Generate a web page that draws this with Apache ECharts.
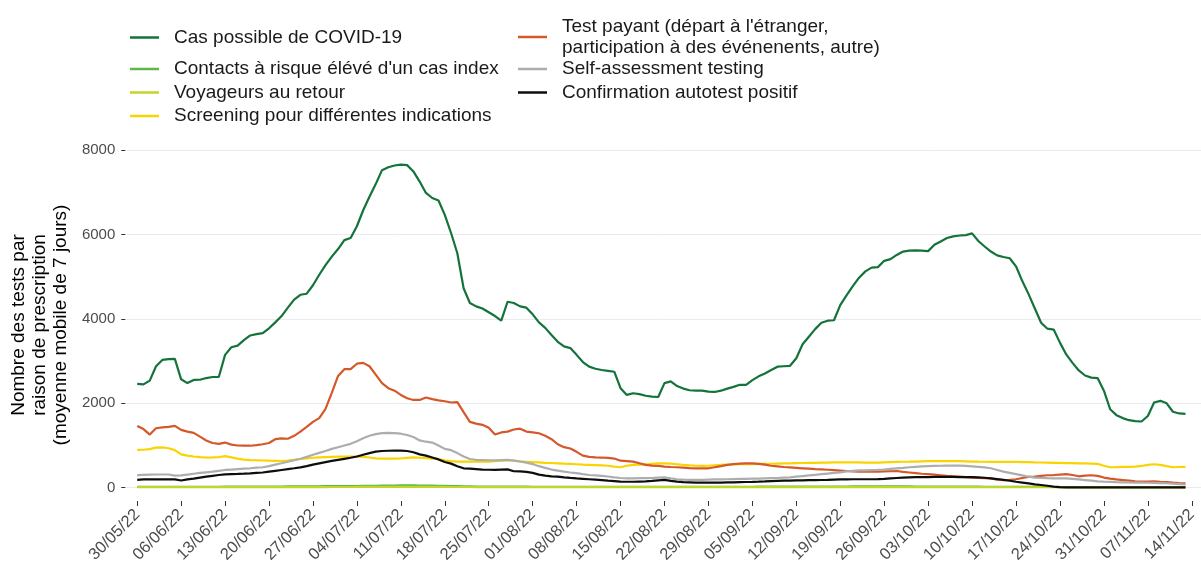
<!DOCTYPE html>
<html>
<head>
<meta charset="utf-8">
<script src="https://cdn.jsdelivr.net/npm/echarts@6/dist/echarts.min.js"></script>
<style>html,body{margin:0;padding:0;background:#fff}#c{width:1201px;height:579px}</style>
</head>
<body>
<div id="c"></div>
<script>
// Tick labels (one per week, starting at the first day of data: 30/05/22)
const tickLabels = ['30/05/22','06/06/22','13/06/22','20/06/22','27/06/22','04/07/22','11/07/22','18/07/22','25/07/22','01/08/22','08/08/22','15/08/22','22/08/22','29/08/22','05/09/22','12/09/22','19/09/22','26/09/22','03/10/22','10/10/22','17/10/22','24/10/22','31/10/22','07/11/22','14/11/22'];
const yTicks = [0, 2000, 4000, 6000, 8000];

const seriesNames = [
  'Cas possible de COVID-19',
  "Contacts à risque élévé d'un cas index",
  'Voyageurs au retour',
  'Screening pour différentes indications',
  "Test payant (départ à l'étranger,\nparticipation à des événenents, autre)",
  'Self-assessment testing',
  'Confirmation autotest positif'
];

// daily values (7-day moving average), 30/05/22 .. 13/11/22
const casPossible = [
2460,2450,2540,2880,3030,3050,3055,2570,2480,2555,
2560,2600,2625,2625,3150,3330,3370,3500,3610,3640,
3665,3780,3920,4070,4270,4460,4575,4600,4800,5050,
5280,5480,5660,5870,5920,6200,6580,6900,7200,7530,
7600,7640,7660,7650,7500,7260,6990,6870,6810,6470,
6040,5560,4730,4380,4300,4250,4160,4070,3960,4410,
4380,4300,4270,4110,3920,3790,3620,3460,3350,3310,
3150,2980,2870,2820,2790,2770,2750,2360,2200,2240,
2220,2180,2160,2150,2480,2520,2410,2350,2310,2300,
2300,2280,2270,2300,2350,2390,2440,2440,2550,2640,
2710,2790,2870,2880,2890,3070,3400,3580,3760,3910,
3960,3970,4330,4560,4780,4980,5130,5220,5230,5380,
5420,5520,5600,5620,5630,5620,5610,5760,5840,5920,
5960,5980,5990,6030,5850,5720,5600,5510,5470,5440,
5250,4900,4590,4250,3910,3770,3750,3440,3160,2960,
2780,2660,2610,2600,2300,1860,1720,1650,1600,1580,
1570,1700,2020,2060,2000,1800,1760,1750];

const contacts = [
20,20,21,21,22,22,22,20,20,21,
21,22,22,22,23,23,24,24,25,25,
26,26,27,28,29,30,31,32,33,34,
35,36,37,38,39,40,42,44,46,48,
50,52,54,55,54,52,50,47,44,41,
38,35,32,30,28,27,26,25,25,24,
24,23,23,22,22,22,21,21,21,20,
20,20,20,20,20,20,19,19,19,19,
19,19,20,20,20,20,20,20,20,20,
20,21,21,21,21,22,22,22,22,23,
23,23,24,24,24,25,25,26,26,27,
27,28,28,28,29,29,30,30,30,30,
30,30,29,29,28,28,27,27,26,26,
25,25,24,24,23,22,22,21,20,20,
19,18,18,17,17,16,16,15,15,15,
14,14,14,13,13,13,12,12,12,11,
11,11,10,10,10,10,10,10];

const voyageurs = [
12,12,12,12,12,12,12,11,11,11,
11,11,11,11,12,12,12,12,12,13,
13,13,13,14,14,14,14,15,15,15,
15,16,16,16,16,17,17,17,17,18,
18,18,18,18,18,18,17,17,17,17,
16,16,16,16,15,15,15,15,15,15,
14,14,14,14,14,14,13,13,13,13,
13,13,13,13,12,12,12,12,12,12,
12,12,12,12,12,12,12,12,12,12,
12,12,12,12,12,12,12,12,12,12,
12,12,12,12,12,12,12,12,12,12,
12,12,12,12,12,12,12,12,12,12,
12,12,12,12,12,12,12,12,12,12,
11,11,11,11,11,11,11,11,11,11,
10,10,10,10,10,10,10,10,10,10,
9,9,9,9,9,9,9,9,9,9,
8,8,8,8,8,8,8,8];

const screening = [
895,900,915,950,955,935,890,790,760,740,
725,715,718,722,750,720,690,665,655,650,
645,640,637,633,640,660,680,695,710,720,
725,730,735,736,736,736,730,715,695,690,
690,690,692,705,718,710,700,690,680,650,
630,620,617,617,615,615,615,630,640,655,
640,625,615,605,598,590,585,578,570,565,
555,545,540,535,530,520,500,484,520,540,
545,555,565,575,578,570,555,540,530,520,
515,520,530,540,545,550,555,558,560,563,
565,568,572,575,578,582,585,588,590,594,
596,598,600,600,600,598,596,595,594,600,
605,610,615,617,620,625,628,630,632,633,
632,630,625,620,617,615,614,613,612,612,
610,608,605,600,597,594,590,586,582,580,
578,575,572,565,520,485,488,492,495,500,
515,540,555,540,510,485,490,494];

const testPayant = [
1465,1390,1260,1410,1430,1440,1465,1370,1330,1300,
1210,1120,1060,1040,1070,1020,1000,995,995,1010,
1030,1060,1150,1170,1160,1230,1330,1440,1560,1650,
1870,2250,2650,2810,2810,2940,2960,2880,2680,2480,
2360,2300,2200,2120,2080,2080,2140,2100,2070,2050,
2020,2030,1790,1560,1520,1490,1420,1260,1310,1330,
1380,1400,1330,1310,1290,1230,1150,1030,960,930,
850,760,730,720,715,705,690,640,630,617,
580,540,525,515,500,490,484,475,465,460,
460,460,485,510,540,560,570,578,575,565,
545,520,505,490,480,470,460,450,440,435,
425,415,405,395,385,380,380,380,380,385,
390,395,375,360,345,330,320,310,295,280,
270,260,250,240,230,225,220,190,180,185,
200,230,255,265,280,295,300,310,320,300,
270,285,295,280,240,215,195,180,165,150,
145,145,150,140,135,120,110,105];

const selfAssessment = [
300,305,310,312,313,313,285,290,310,330,
350,365,380,400,420,430,440,450,460,475,
485,510,545,580,615,650,685,730,780,825,
870,920,960,1000,1040,1100,1170,1230,1270,1295,
1300,1295,1280,1250,1200,1120,1090,1070,1000,920,
890,820,740,680,660,655,650,648,655,660,
640,620,595,560,510,470,430,405,380,360,
345,320,300,290,280,265,245,230,222,222,
225,225,230,240,245,220,200,190,185,183,
185,190,195,198,200,205,208,210,213,215,
220,225,230,238,245,260,275,290,305,320,
335,350,365,385,400,408,412,416,420,430,
445,458,470,485,495,505,512,518,520,522,
523,522,515,505,495,480,460,420,380,350,
320,290,260,240,230,225,222,222,220,210,
195,180,165,150,142,138,132,128,124,121,
119,117,115,110,105,95,85,75];

const confirmation = [
185,195,198,199,199,199,198,170,195,215,
240,260,280,300,315,322,326,332,340,350,
360,380,400,420,440,460,482,510,545,575,
605,635,660,685,710,740,780,820,855,870,
876,880,878,870,840,790,760,715,670,610,
570,510,460,450,440,430,425,420,430,435,
390,385,375,350,310,285,270,260,245,232,
220,210,200,190,178,165,155,145,140,140,
145,150,160,175,183,160,142,130,125,120,
118,118,120,122,125,128,132,135,138,142,
148,155,160,165,168,172,175,178,180,182,
185,190,195,198,200,200,200,200,202,210,
220,230,240,245,248,250,252,254,255,255,
254,252,250,248,245,235,220,205,185,165,
140,120,100,80,64,45,25,12,8,8,
8,8,8,7,7,7,7,7,7,7,
7,7,7,7,7,7,7,7];

const allValues = [casPossible, contacts, voyageurs, screening, testPayant, selfAssessment, confirmation];
const colors = ['#13733b', '#5cb947', '#c2d52a', '#f8d400', '#d4582a', '#adadad', '#0d0d0d'];

const chart = echarts.init(document.getElementById('c'), null, {renderer: 'canvas'});
const font = 'Liberation Sans, Arial, sans-serif';
const tickDays = tickLabels.map((_, i) => i * 7);

const legendBase = {
  icon: 'rect', itemWidth: 29, itemHeight: 2.5, padding: 0, orient: 'vertical',
  itemGap: 2.5, selectedMode: false,
  textStyle: {fontSize: 19, lineHeight: 21, color: '#1a1a1a', fontFamily: font, padding: [0, 0, 0, 10]}
};

const option = {
  animation: false,
  color: colors,
  grid: {left: 118, right: 0, top: 149, bottom: 78, containLabel: false},
  legend: [
    Object.assign({}, legendBase, {left: 130, top: 27, data: [seriesNames[0]]}),
    Object.assign({}, legendBase, {left: 130, top: 58.5, data: [seriesNames[1], seriesNames[2], seriesNames[3]]}),
    Object.assign({}, legendBase, {left: 518, top: 16, data: [seriesNames[4]]}),
    Object.assign({}, legendBase, {left: 518, top: 58.5, data: [seriesNames[5], seriesNames[6]]})
  ],
  xAxis: {
    type: 'value', min: -1.9, max: 169.47,
    axisLine: {show: false, onZero: false},
    axisTick: {show: true, customValues: tickDays, length: 5, lineStyle: {color: '#333333'}},
    axisLabel: {customValues: tickDays, formatter: v => tickLabels[Math.round(v / 7)], rotate: 45,
      fontSize: 16.5, color: '#4d4d4d', fontFamily: font, margin: 11},
    splitLine: {show: false}
  },
  yAxis: {
    type: 'value', min: -316, max: 8032,
    axisLine: {show: false, onZero: false},
    axisTick: {show: true, customValues: yTicks, length: 4, lineStyle: {color: '#333333'}},
    axisLabel: {customValues: yTicks, formatter: v => String(v), fontSize: 15, color: '#4d4d4d', fontFamily: font, margin: 10},
    splitLine: {show: true, lineStyle: {color: '#ebebeb', width: 1}},
    name: 'Nombre des tests par\nraison de prescription\n(moyenne mobile de 7 jours)',
    nameLocation: 'middle', nameGap: 46,
    nameTextStyle: {fontSize: 19, lineHeight: 21, color: '#000', fontFamily: font, align: 'center'}
  },
  series: seriesNames.map((name, k) => ({
    name: name, type: 'line', showSymbol: false, symbol: 'none',
    lineStyle: {width: 2.2, color: colors[k]}, itemStyle: {color: colors[k]},
    data: allValues[k].map((v, i) => [i, v])
  }))
};
chart.setOption(option);
</script>
</body>
</html>
